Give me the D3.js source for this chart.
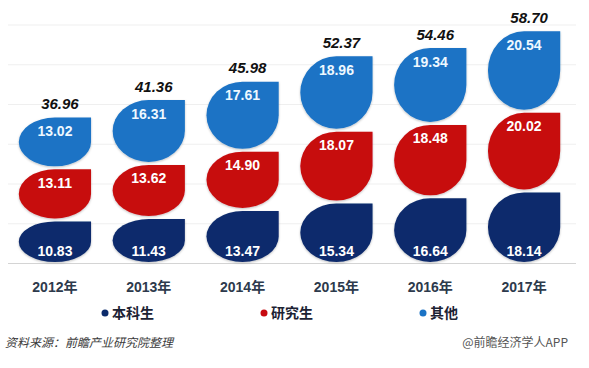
<!DOCTYPE html>
<html>
<head>
<meta charset="utf-8">
<script src="https://cdn.jsdelivr.net/npm/d3@7/dist/d3.min.js"></script>
<style>
  body { margin: 0; background: #fff; }
  text { font-family: "Liberation Sans", Arial, "Noto Sans CJK SC", sans-serif; }
</style>
</head>
<body>
<div id="container"></div>
<script>
var width = 589,
    height = 368;

var years = ["2012年", "2013年", "2014年", "2015年", "2016年", "2017年"];
var seriesNames = ["本科生", "研究生", "其他"];
var benke = [10.83, 11.43, 13.47, 15.34, 16.64, 18.14];
var yanjiu = [13.11, 13.62, 14.90, 18.07, 18.48, 20.02];
var qita = [13.02, 16.31, 17.61, 18.96, 19.34, 20.54];
var totals = ["36.96", "41.36", "45.98", "52.37", "54.46", "58.70"];
var gridTicks = [0, 10, 20, 30, 40, 50, 60];

var colors = ["#0c2b6c", "#c70a10", "#1b73c5"];

var svg = d3.select("#container")
    .append("svg")
    .attr("width", width)
    .attr("height", height);

var defs = svg.append("defs");
var f = defs.append("filter").attr("id", "sh").attr("x", "-10%").attr("y", "-10%")
    .attr("width", "120%").attr("height", "120%");
f.append("feDropShadow").attr("dx", 0).attr("dy", 1).attr("stdDeviation", 1)
    .attr("flood-color", "#000").attr("flood-opacity", 0.25);

var x = d3.scaleBand()
    .domain(years)
    .range([8, 571])
    .paddingInner(0.23)
    .paddingOuter(0.115);

var y = d3.scaleLinear()
    .domain([0, 60])
    .range([263, 24.5]);

// gridlines
svg.append("g")
    .selectAll("line")
    .data(gridTicks)
    .enter()
    .append("line")
    .attr("x1", 8)
    .attr("x2", 576)
    .attr("y1", function (d) { return y(d) + 0.5; })
    .attr("y2", function (d) { return y(d) + 0.5; })
    .attr("stroke", function (d) { return d === 0 ? "#d4d4d4" : "#efefef"; })
    .attr("stroke-width", 1);

var rows = years.map(function (yr, i) {
    return { year: yr, vals: [benke[i], yanjiu[i], qita[i]], total: totals[i] };
});

var stack = d3.stack().keys([0, 1, 2]).value(function (d, k) { return d.vals[k]; });
var stacked = stack(rows);

function leaf(x0, x1, yt, yb) {
    var rx = (x1 - x0) / 2,
        ry = (yb - yt) / 2;
    return "M" + x1 + "," + yt +
        "L" + x1 + "," + (yb - ry) +
        "A" + rx + "," + ry + " 0 0 1 " + (x1 - rx) + "," + yb +
        "A" + rx + "," + ry + " 0 0 1 " + x0 + "," + (yb - ry) +
        "A" + rx + "," + ry + " 0 0 1 " + (x0 + rx) + "," + yt +
        "Z";
}

var gap = 1.5;

stacked.forEach(function (layer, si) {
    var g = svg.append("g").attr("class", "series-" + si);

    g.selectAll("path")
        .data(layer)
        .enter()
        .append("path")
        .attr("d", function (d) {
            var x0 = x(d.data.year),
                x1 = x0 + x.bandwidth();
            var yt = y(d[1]) + gap,
                yb = d[0] === 0 ? y(0) - 1 : y(d[0]) - gap;
            return leaf(x0, x1, yt, yb);
        })
        .attr("fill", colors[si])
        .attr("filter", "url(#sh)");

    g.selectAll("text")
        .data(layer)
        .enter()
        .append("text")
        .attr("x", function (d) { return x(d.data.year) + x.bandwidth() / 2; })
        .attr("y", function (d) {
            return si === 0 ? y(0) - 7 : y(d[1]) + 20;
        })
        .attr("text-anchor", "middle")
        .attr("font-size", 14)
        .attr("font-weight", "bold")
        .attr("fill", si === 2 ? "#eef8ff" : "#ffffff")
        .text(function (d) { return d.data.vals[si].toFixed(2); });
});

// totals
svg.append("g")
    .selectAll("text")
    .data(stacked[2])
    .enter()
    .append("text")
    .attr("x", function (d) { return x(d.data.year) + x.bandwidth() / 2 + 5; })
    .attr("y", function (d) { return y(d[1]) - 7; })
    .attr("text-anchor", "middle")
    .attr("font-size", 15)
    .attr("font-weight", "bold")
    .attr("font-style", "italic")
    .attr("fill", "#111")
    .text(function (d) { return d.data.total; });

// x axis labels
var xAxis = d3.axisBottom(x).tickSize(0).tickPadding(0);
var ax = svg.append("g")
    .attr("transform", "translate(0," + 278 + ")")
    .call(xAxis);
ax.select(".domain").remove();
ax.selectAll("text")
    .attr("dy", 0)
    .attr("y", 14)
    .attr("font-size", 14)
    .attr("font-weight", "bold")
    .attr("fill", "#2d3a4c")
    .style("font-family", "'Liberation Sans', Arial, 'Noto Sans CJK SC', sans-serif");

// legend
var legendX = [105, 264, 423];
var lg = svg.append("g")
    .selectAll("g")
    .data(seriesNames)
    .enter()
    .append("g")
    .attr("transform", function (d, i) { return "translate(" + legendX[i] + ",313)"; });

lg.append("circle")
    .attr("r", 3.5)
    .attr("fill", function (d, i) { return colors[i]; });

lg.append("text")
    .attr("x", 7)
    .attr("y", 5)
    .attr("font-size", 14)
    .attr("font-weight", "bold")
    .attr("fill", "#1c2233")
    .style("font-family", "'Noto Sans CJK SC', sans-serif")
    .text(function (d) { return d; });

// footer
svg.append("text")
    .attr("x", 5)
    .attr("y", 347)
    .attr("font-size", 12)
    .attr("font-style", "italic")
    .attr("fill", "#3a3a3a")
    .style("font-family", "'Noto Sans CJK SC', sans-serif")
    .text("资料来源：前瞻产业研究院整理");

svg.append("text")
    .attr("x", 568)
    .attr("y", 347)
    .attr("text-anchor", "end")
    .attr("font-size", 12)
    .attr("fill", "#555")
    .style("font-family", "'Noto Sans CJK SC', sans-serif")
    .text("@前瞻经济学人APP");
</script>
</body>
</html>
